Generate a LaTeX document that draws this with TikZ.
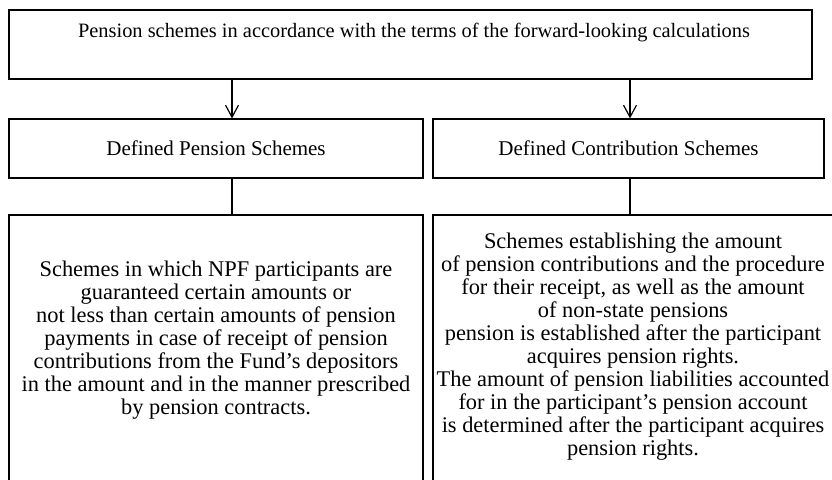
\documentclass[tikz,border=0pt]{standalone}
\usepackage{fontspec}
\setmainfont{Liberation Serif}
\usetikzlibrary{arrows.meta}

\begin{document}
\begin{tikzpicture}[x=1pt,y=-1pt,
	box/.style={draw,line width=1.2pt,inner sep=0pt},
	txt/.style={align=center,font=\fontsize{22.4}{23}\selectfont}]
	\clip (0,0) rectangle (832,479);
	\node[box,minimum width=803pt,minimum height=69pt] (0) at (410.5,44.5) {};
	\node[txt,font=\fontsize{20.4}{23}\selectfont] (0t) at (414,33) {Pension schemes in accordance with the terms of the forward-looking calculations};
	\node[box,txt,font=\fontsize{21}{23}\selectfont,minimum width=414pt,minimum height=59pt] (1) at (216,148.5) {Defined Pension Schemes};
	\node[box,txt,font=\fontsize{21}{23}\selectfont,minimum width=391pt,minimum height=59pt] (2) at (628.5,148.5) {Defined Contribution Schemes};
	\node[box,minimum width=414pt,minimum height=300pt] (3) at (216,365) {};
	\node[txt] (3t) at (216,340) {Schemes in which NPF participants are\\guaranteed certain amounts or\\not less than certain amounts of pension\\payments in case of receipt of pension\\contributions from the Fund's depositors\\in the amount and in the manner prescribed\\by pension contracts.};
	\node[box,minimum width=407pt,minimum height=300pt] (4) at (636.5,365) {};
	\node[txt] (4t) at (633,347) {Schemes establishing the amount\\of pension contributions and the procedure\\for their receipt, as well as the amount\\of non-state pensions\\pension is established after the participant\\acquires pension rights.\\The amount of pension liabilities accounted\\for in the participant's pension account\\is determined after the participant acquires\\pension rights.};
	\draw [->,>={Straight Barb[length=12pt,width=13pt]},line width=1.2pt]([xshift=16pt]1.north |- 0.south)--([xshift=16pt]1.north);
	\draw [->,>={Straight Barb[length=12pt,width=13pt]},line width=1.2pt]([xshift=1.5pt]2.north |- 0.south)--([xshift=1.5pt]2.north);
	\draw [-,line width=1.2pt]([xshift=16pt]1.south)--([xshift=16pt]3.north);
	\draw [-,line width=1.2pt]([xshift=1.5pt]2.south)--([xshift=-6.5pt]4.north);
\end{tikzpicture}
\end{document}
